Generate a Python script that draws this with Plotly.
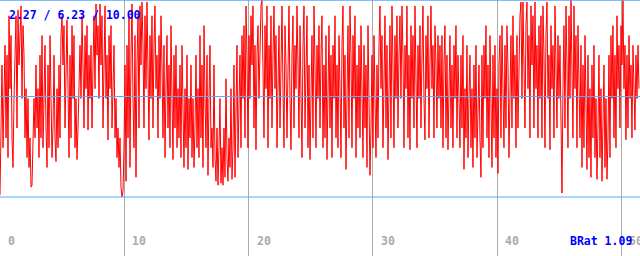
import numpy as np
import plotly.graph_objects as go

# Sampled values, one per pixel column of the original trace (20 per row)
values = [
    0.1, 3.5, 6.7, 2.5, 5.0, 7.7, 3.0, 7.2, 2.0, 9.2, 5.5, 8.2, 3.0, 1.5, 5.0, 6.7, 9.2, 3.5, 9.5, 6.7,
    8.2, 9.7, 5.0, 8.7, 7.2, 3.0, 5.5, 2.0, 5.0, 1.5, 3.0, 0.5, 0.6, 2.5, 5.0, 3.0, 6.7, 3.5, 5.5, 2.0,
    7.2, 3.0, 8.2, 2.5, 5.0, 7.7, 3.5, 1.5, 6.7, 2.5, 8.2, 5.0, 2.0, 3.5, 7.2, 3.0, 1.8, 5.5, 2.5, 6.7,
    3.0, 8.2, 9.2, 6.7, 8.7, 3.5, 7.7, 9.0, 5.5, 2.0, 7.2, 3.0, 8.7, 5.0, 8.2, 2.5, 5.0, 1.9, 3.5, 6.7,
    7.7, 5.0, 9.2, 6.7, 3.5, 8.2, 5.5, 8.7, 3.4, 7.2, 5.0, 7.7, 3.5, 6.7, 9.2, 5.5, 9.8, 7.2, 8.7, 5.0,
    9.8, 6.7, 9.2, 3.5, 7.7, 9.7, 5.0, 7.2, 2.9, 8.2, 5.5, 8.7, 3.5, 6.7, 7.7, 3.0, 5.0, 2.0, 3.5, 1.5,
    3.0, 0.5, 0.0, 0.3, 2.5, 6.7, 0.8, 7.7, 3.0, 9.2, 1.5, 7.2, 9.8, 5.0, 2.5, 8.2, 1.0, 6.7, 9.2, 3.5,
    9.7, 6.7, 9.9, 7.7, 3.5, 9.2, 5.5, 9.9, 6.7, 2.9, 8.2, 5.0, 9.2, 3.5, 7.7, 9.7, 5.5, 7.2, 3.0, 8.2,
    5.0, 9.2, 6.7, 3.0, 7.7, 2.0, 5.5, 8.2, 3.5, 6.7, 2.5, 8.7, 5.0, 1.9, 7.2, 3.5, 7.7, 2.5, 5.5, 3.0,
    6.7, 2.0, 7.7, 3.5, 1.5, 5.5, 2.5, 7.2, 1.4, 5.0, 3.0, 6.7, 2.0, 5.0, 1.5, 3.5, 7.2, 2.5, 5.5, 2.0,
    8.2, 3.0, 6.7, 1.5, 8.7, 5.0, 2.5, 7.2, 1.1, 5.0, 7.7, 2.5, 3.5, 1.5, 6.7, 2.0, 0.8, 3.5, 0.6, 2.5,
    5.0, 0.7, 2.5, 0.6, 3.5, 1.0, 6.0, 2.0, 0.8, 3.0, 1.5, 5.5, 0.9, 2.5, 6.7, 1.0, 3.5, 7.7, 2.0, 5.0,
    7.2, 2.5, 8.2, 5.0, 8.7, 3.0, 9.7, 7.2, 2.5, 8.2, 5.0, 9.2, 6.7, 9.7, 3.5, 7.7, 2.4, 7.2, 8.7, 5.0,
    8.2, 9.7, 10.0, 6.7, 3.0, 8.7, 5.5, 9.7, 2.5, 7.7, 5.0, 9.2, 3.5, 7.2, 9.7, 5.5, 8.2, 2.5, 6.7, 8.7,
    3.5, 7.7, 9.7, 5.5, 2.5, 8.7, 6.7, 3.0, 8.2, 9.7, 5.0, 2.4, 7.2, 9.2, 3.5, 7.7, 5.5, 9.7, 6.7, 3.0,
    8.7, 5.5, 2.0, 7.7, 9.7, 3.5, 7.2, 9.2, 2.5, 6.7, 1.9, 5.5, 8.2, 3.0, 9.7, 6.7, 2.5, 7.7, 5.0, 8.7,
    3.5, 7.2, 9.2, 2.5, 6.7, 3.0, 8.2, 1.9, 5.5, 8.7, 3.5, 7.2, 2.0, 7.7, 5.0, 9.2, 3.0, 6.7, 2.5, 8.2,
    5.5, 2.0, 7.7, 9.7, 3.5, 7.2, 1.4, 5.0, 8.7, 3.0, 9.7, 7.2, 2.5, 8.2, 5.0, 9.2, 2.0, 6.7, 3.5, 7.7,
    3.0, 8.7, 5.5, 2.0, 7.7, 3.5, 6.7, 1.5, 8.7, 5.0, 1.1, 3.5, 7.2, 2.5, 8.2, 5.0, 2.0, 6.7, 3.0, 7.7,
    9.7, 5.5, 8.2, 2.5, 7.2, 9.2, 3.5, 7.7, 1.9, 5.5, 8.7, 3.0, 9.7, 6.7, 2.5, 8.2, 5.0, 9.2, 3.5, 7.2,
    9.2, 5.0, 9.7, 7.2, 2.5, 7.7, 5.5, 9.7, 3.0, 7.2, 2.4, 8.7, 5.0, 8.2, 3.5, 9.7, 6.7, 2.5, 7.7, 5.0,
    8.7, 3.5, 7.2, 9.7, 5.0, 2.9, 8.2, 5.5, 9.2, 3.0, 6.7, 9.7, 5.5, 7.7, 3.0, 8.7, 6.7, 3.5, 8.2, 5.0,
    7.7, 3.5, 8.2, 2.5, 6.7, 8.7, 3.0, 7.2, 2.4, 5.5, 8.2, 3.5, 6.7, 2.5, 7.7, 5.0, 8.7, 3.0, 7.2, 5.0,
    2.5, 7.2, 3.5, 8.2, 1.4, 5.5, 3.0, 7.7, 2.0, 5.0, 7.2, 2.5, 5.5, 1.5, 6.7, 3.0, 7.7, 2.0, 5.0, 6.7,
    3.0, 1.0, 7.2, 2.5, 7.7, 5.0, 8.7, 3.0, 6.7, 2.0, 8.2, 5.5, 1.5, 7.2, 3.0, 7.7, 2.0, 5.5, 1.2, 6.7,
    8.2, 3.0, 8.7, 5.5, 2.5, 7.7, 3.5, 8.7, 6.7, 2.0, 5.5, 8.2, 3.5, 9.2, 5.0, 7.2, 2.5, 8.2, 3.5, 7.2,
    9.2, 9.9, 5.0, 9.9, 7.2, 3.5, 8.7, 9.9, 5.5, 8.2, 3.0, 9.7, 6.7, 9.2, 3.5, 9.9, 5.5, 7.7, 3.0, 8.7,
    5.0, 9.2, 3.0, 9.7, 7.2, 2.5, 8.2, 9.9, 5.0, 7.2, 2.4, 8.7, 5.5, 7.7, 3.0, 9.7, 6.7, 3.5, 8.2, 5.0,
    7.7, 3.0, 0.2, 5.5, 8.7, 3.5, 9.7, 6.7, 2.5, 9.2, 5.0, 10.0, 7.2, 3.0, 9.7, 5.5, 8.2, 2.5, 8.7, 5.5,
    3.0, 7.7, 1.5, 6.7, 2.5, 8.2, 3.5, 1.4, 7.2, 2.0, 5.5, 1.0, 6.7, 3.0, 7.7, 2.0, 5.0, 0.9, 3.5, 7.2,
    2.0, 5.5, 0.8, 3.5, 6.7, 1.5, 5.0, 0.9, 3.0, 7.2, 2.0, 8.2, 5.0, 8.7, 3.0, 7.2, 2.5, 9.2, 5.5, 7.7,
    3.5, 8.7, 6.7, 10.0, 5.5, 7.7, 2.9, 7.2, 3.5, 8.2, 5.0, 6.7, 3.0, 7.7, 5.5, 3.4, 7.2, 5.0, 7.7, 5.5,
]
sample_step = 0.08045
times = np.arange(len(values)) * sample_step

tick_values = [0, 10, 20, 30, 40, 50]
tick_labels = ["0", "10", "20", "30", "40", "50"]
stats_text = "2.27 / 6.23 / 10.00"
ratio_text = "BRat 1.09"
mid_level = 5.1

X_MAX = 51.49
Y_MIN, Y_MAX = -2.995, 10.0

fig = go.Figure()
fig.add_trace(go.Scatter(x=times, y=values, mode="lines",
                         line=dict(color="#ff0000", width=1),
                         hoverinfo="skip", showlegend=False))

blue = "#55aaff"
for lvl in [Y_MAX, mid_level, 0]:
    fig.add_shape(type="line", xref="paper", x0=0, x1=1, yref="y", y0=lvl, y1=lvl,
                  line=dict(color=blue, width=1.5 if lvl == Y_MAX else 1))

mono = "DejaVu Sans Mono"
for v, lab in zip(tick_values, tick_labels):
    fig.add_annotation(x=v, xref="x", y=(256 - 241) / 256, yref="paper",
                       text="<b>" + lab + "</b>", showarrow=False,
                       xanchor="left", yanchor="middle", xshift=6,
                       font=dict(family=mono, size=11.5, color="#aaaaaa"))

fig.add_annotation(x=7 / 640, xref="paper", y=(256 - 15) / 256, yref="paper",
                   text="<b>" + stats_text + "</b>", showarrow=False,
                   xanchor="left", yanchor="middle",
                   font=dict(family=mono, size=11.5, color="#0000ff"))
fig.add_annotation(x=568 / 640, xref="paper", y=(256 - 241) / 256, yref="paper",
                   text="<b>" + ratio_text + "</b>", showarrow=False,
                   xanchor="left", yanchor="middle",
                   font=dict(family=mono, size=11.5, color="#0000ff"))

fig.update_layout(
    width=640, height=256,
    margin=dict(l=0, r=0, t=0, b=0),
    paper_bgcolor="white", plot_bgcolor="white",
    xaxis=dict(range=[0, X_MAX], showgrid=True, gridcolor="#aaaaaa", gridwidth=1,
               tick0=0, dtick=10, zeroline=False, showticklabels=False,
               showline=False, ticks=""),
    yaxis=dict(range=[Y_MIN, Y_MAX], showgrid=False, zeroline=False,
               showticklabels=False, showline=False, ticks=""),
)

fig.write_html("out.html")
